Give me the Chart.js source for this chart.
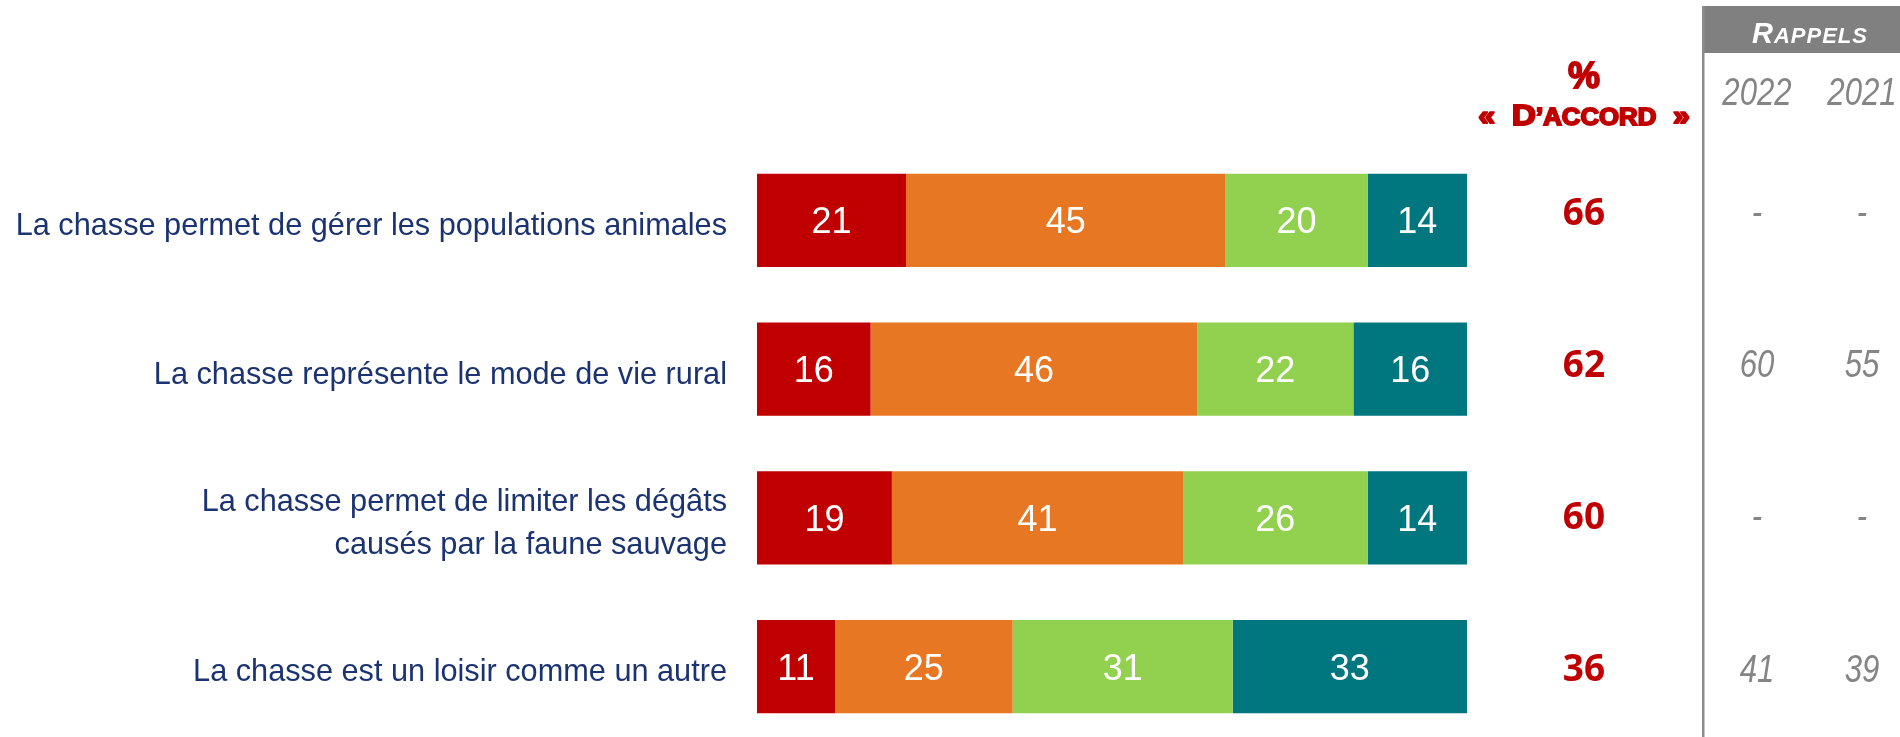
<!DOCTYPE html>
<html lang="fr">
<head>
<meta charset="utf-8">
<title>La chasse - % d'accord</title>
<script src="https://cdn.jsdelivr.net/npm/chart.js@4.4.1/dist/chart.umd.min.js"></script>
<style>
    html, body { margin: 0; padding: 0; background: #fff; overflow: hidden; }
    #chart { display: block; }
</style>
</head>
<body>
<canvas id="chart" width="1900" height="745"></canvas>
<script>
// Data
const categories = [
    ['La chasse permet de gérer les populations animales'],
    ['La chasse représente le mode de vie rural'],
    ['La chasse permet de limiter les dégâts', 'causés par la faune sauvage'],
    ['La chasse est un loisir comme un autre']
];
const toutAFait = [21, 16, 19, 11];
const plutotOui = [45, 46, 41, 25];
const plutotNon = [20, 22, 26, 31];
const pasDuTout = [14, 16, 14, 33];
const totalAccord = [66, 62, 60, 36];
const rappelYears = ['2022', '2021'];
const rappel2022 = ['-', '60', '-', '41'];
const rappel2021 = ['-', '55', '-', '39'];

const RED = '#C00000';
const NAVY = '#1B3370';
const GREY = '#858585';

// Draws white values inside the bars
const barValues = {
    id: 'barValues',
    afterDatasetsDraw(chart) {
        const ctx = chart.ctx;
        ctx.save();
        ctx.font = '36px "Liberation Sans", Arial, sans-serif';
        ctx.fillStyle = '#fff';
        ctx.textAlign = 'center';
        ctx.textBaseline = 'alphabetic';
        chart.data.datasets.forEach((ds, i) => {
            chart.getDatasetMeta(i).data.forEach((bar, j) => {
                const cx = (bar.x + bar.base) / 2;
                ctx.fillText(String(ds.data[j]), cx, bar.y + 36 * 0.358);
            });
        });
        ctx.restore();
    }
};

// Right-hand columns: % d'accord and rappels
const sideTable = {
    id: 'sideTable',
    afterDraw(chart) {
        const ctx = chart.ctx;
        const y = chart.scales.y;
        const colAccord = 1584;
        const colYears = [1757, 1862];
        const lineX = 1703;

        ctx.save();

        // header "% « D'ACCORD »"
        ctx.fillStyle = RED;
        ctx.strokeStyle = RED;
        ctx.lineWidth = 1.8;
        ctx.textBaseline = 'alphabetic';
        ctx.textAlign = 'center';
        ctx.font = 'bold 36px "Liberation Sans", Arial, sans-serif';
        ctx.fillText('%', colAccord, 88);
        ctx.strokeText('%', colAccord, 88);

        const parts = [
            ['«  ', 'bold 27px "Liberation Sans", Arial, sans-serif'],
            ['D', 'bold 30px "Liberation Sans", Arial, sans-serif'],
            ['\u2019ACCORD', 'bold 23px "Liberation Sans", Arial, sans-serif'],
            ['  »', 'bold 27px "Liberation Sans", Arial, sans-serif']
        ];
        const sx = 1.12;
        let w = 0;
        parts.forEach(p => { ctx.font = p[1]; w += ctx.measureText(p[0]).width; });
        ctx.translate(colAccord, 125);
        ctx.scale(sx, 1);
        ctx.textAlign = 'left';
        let px = -w / 2;
        parts.forEach(p => {
            ctx.font = p[1];
            ctx.fillText(p[0], px, 0);
            ctx.strokeText(p[0], px, 0);
            px += ctx.measureText(p[0]).width;
        });
        ctx.setTransform(1, 0, 0, 1, 0, 0);

        // rappels box + separator line
        ctx.fillStyle = '#808080';
        ctx.fillRect(lineX - 1, 6, 1900 - lineX + 1, 47);
        ctx.fillStyle = '#8c8c8c';
        ctx.fillRect(lineX - 1, 6, 2.5, 740);

        ctx.fillStyle = '#fff';
        const rParts = [
            ['R', 'italic bold 29px "Liberation Sans", Arial, sans-serif'],
            ['APPELS', 'italic bold 22px "Liberation Sans", Arial, sans-serif']
        ];
        ctx.letterSpacing = '1px';
        let rw = 0;
        rParts.forEach(p => { ctx.font = p[1]; rw += ctx.measureText(p[0]).width; });
        let rx = 1810 - rw / 2;
        rParts.forEach(p => {
            ctx.font = p[1];
            ctx.fillText(p[0], rx, 43);
            rx += ctx.measureText(p[0]).width;
        });
        ctx.letterSpacing = '0px';

        // narrow italic grey numbers
        const narrow = (txt, cx, cy) => {
            ctx.save();
            ctx.translate(cx, cy);
            ctx.scale(0.82, 1);
            ctx.font = 'italic 38px "Liberation Sans", Arial, sans-serif';
            ctx.fillStyle = GREY;
            ctx.textAlign = 'center';
            ctx.fillText(txt, 0, 38 * 0.358);
            ctx.restore();
        };
        rappelYears.forEach((yr, k) => narrow(yr, colYears[k], 91));

        categories.forEach((c, i) => {
            const cy = y.getPixelForValue(i) - 9 + i * 3.5;
            ctx.font = 'bold 37px "Open Sans", sans-serif';
            ctx.fillStyle = RED;
            ctx.textAlign = 'center';
            ctx.fillText(String(totalAccord[i]), colAccord, cy + 37 * 0.36);
            narrow(rappel2022[i], colYears[0], cy);
            narrow(rappel2021[i], colYears[1], cy);
        });

        ctx.restore();
    }
};

const ctx = document.getElementById('chart').getContext('2d');
new Chart(ctx, {
    type: 'bar',
    data: {
        labels: categories,
        datasets: [
            { label: "Tout à fait d'accord", data: toutAFait, backgroundColor: '#C00000' },
            { label: "Plutôt d'accord", data: plutotOui, backgroundColor: '#E77722' },
            { label: "Plutôt pas d'accord", data: plutotNon, backgroundColor: '#92D050' },
            { label: "Pas du tout d'accord", data: pasDuTout, backgroundColor: '#00767E' }
        ]
    },
    options: {
        indexAxis: 'y',
        responsive: false,
        devicePixelRatio: 1,
        animation: false,
        layout: { padding: { top: 146, right: 433, bottom: 4, left: 0 } },
        datasets: {
            bar: {
                barPercentage: 0.626,
                categoryPercentage: 1,
                borderWidth: 0
            }
        },
        plugins: {
            legend: { display: false },
            tooltip: { enabled: false }
        },
        scales: {
            x: {
                stacked: true,
                min: 0,
                max: 100,
                display: false
            },
            y: {
                stacked: true,
                grid: { display: false, drawTicks: false },
                border: { display: false },
                afterFit(scale) {
                    scale.width = 757;
                    scale.paddingTop = 0;
                    scale.paddingBottom = 0;
                },
                ticks: {
                    padding: 30,
                    labelOffset: 6,
                    color: NAVY,
                    font: { family: '"Liberation Sans", Arial, sans-serif', size: 30.7, lineHeight: 1.4 }
                }
            }
        }
    },
    plugins: [barValues, sideTable]
});
</script>
</body>
</html>
